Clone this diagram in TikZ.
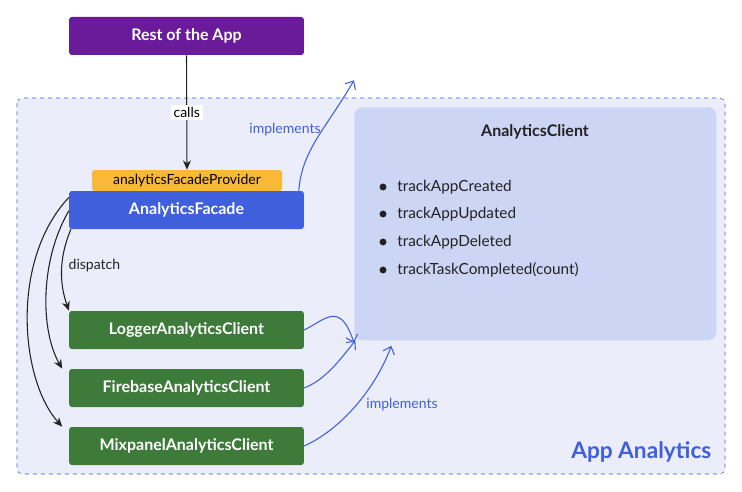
\documentclass[tikz,border=0pt]{standalone}
\usepackage{fontspec}
\setmainfont{Lato}
\usetikzlibrary{arrows.meta, positioning}
\definecolor{appPurple}{HTML}{6A1B9A}
\definecolor{facadeBlue}{HTML}{3F5FDC}
\definecolor{tagOrange}{HTML}{F9B936}
\definecolor{clientGreen}{HTML}{3E7B3B}
\definecolor{groupFill}{HTML}{EBEEFA}
\definecolor{panelFill}{HTML}{CDD5F5}
\definecolor{linkBlue}{HTML}{3F5FDC}
\definecolor{inkGrey}{HTML}{222222}

\begin{document}
\begin{tikzpicture}[
    x=0.75pt, y=-0.75pt,
    % Node styles
    box/.style={
        rounded corners=2pt, minimum width=176pt, minimum height=28.5pt,
        inner sep=0pt, text=white, font=\bfseries\fontsize{12}{14}\selectfont,
      },
    app box/.style={box, fill=appPurple},
    facade box/.style={box, fill=facadeBlue},
    client box/.style={box, fill=clientGreen},
    % Edge styles
    dispatch edge/.style={draw=inkGrey, thick, -{Stealth[length=7pt,width=6pt]}},
    implements edge/.style={draw=linkBlue, thick, -{Straight Barb[length=5pt,width=9pt]}},
    edge label/.style={font=\fontsize{10.5}{12}\selectfont},
  ]
  \useasboundingbox (0,0) rectangle (742,492);

  % --- Group container ---
  \draw[draw=linkBlue, dashed, fill=groupFill, rounded corners=4pt]
    (17,98) rectangle (725,474);
  \node[text=linkBlue, font=\bfseries\fontsize{17}{20}\selectfont, anchor=east]
    (groupTitle) at (716,452) {App Analytics};

  % --- Interface panel ---
  \node[fill=panelFill, rounded corners=6pt, minimum width=271.5pt, minimum height=174.75pt,
        inner sep=0pt, anchor=north west] (client) at (354,107) {};
  \node[font=\bfseries\fontsize{12}{14}\selectfont, text=inkGrey] (clientTitle) at (535,132) {AnalyticsClient};
  \foreach \name/\y in {trackAppCreated/187, trackAppUpdated/214,
                        trackAppDeleted/242, trackTaskCompleted(count)/270} {
      \fill[inkGrey] (383,\y) circle (2.6pt);
      \node[anchor=west, inner sep=0pt, font=\fontsize{11.5}{14}\selectfont, text=inkGrey]
        at (397,\y) {\name};
    }

  % --- Boxes ---
  \node[app box] (app) at (186.5,36) {Rest of the App};
  \node[fill=tagOrange, rounded corners=2pt, minimum width=142.5pt, minimum height=15.75pt,
        inner sep=0pt, font=\fontsize{10.5}{12}\selectfont] (provider) at (187,180.5) {analyticsFacadeProvider};
  \node[facade box] (facade) at (186.5,210) {AnalyticsFacade};
  \node[client box] (logger) at (186.5,330) {LoggerAnalyticsClient};
  \node[client box] (firebase) at (186.5,388) {FirebaseAnalyticsClient};
  \node[client box] (mixpanel) at (186.5,446) {MixpanelAnalyticsClient};

  % --- Connectors ---
  \draw[dispatch edge] (app.south) -- node[fill=white, inner sep=2pt, edge label] {calls} (provider.north);
  \path (app.south) ++(0,0) coordinate (callsLabel);

  \draw[dispatch edge] (facade.south west) ++(2,0)
    .. controls (58,260) and (60,285) .. (logger.north west);
  \draw[dispatch edge] ([yshift=-15pt]facade.north west)
    .. controls (40,260) and (40,330) .. ([xshift=-5pt]firebase.north west);
  \draw[dispatch edge] ([yshift=-5pt]facade.north west)
    .. controls (10,260) and (20,380) .. ([xshift=-5pt]mixpanel.north west);
  \node[edge label, anchor=west, text=inkGrey] (dispatchLabel) at (64,266) {dispatch};

  \draw[implements edge] ([xshift=-4pt]facade.north east)
    .. controls (302,150) and (325,130) .. ([yshift=20pt]client.north west);
  \node[edge label, text=linkBlue] (implTop) at (285,130) {implements};
  \draw[implements edge] (logger.east)
    .. controls (325,320) and (340,300) .. ([yshift=-177pt]client.north west);
  \draw[implements edge] (firebase.east)
    .. controls (325,380) and (340,360) .. ([xshift=1pt]client.south west);
  \draw[implements edge] (mixpanel.east)
    .. controls (340,430) and (375,390) .. ([xshift=28pt,yshift=-4pt]client.south west);
  \node[edge label, text=linkBlue] (implBottom) at (402,405) {implements};
\end{tikzpicture}
\end{document}
